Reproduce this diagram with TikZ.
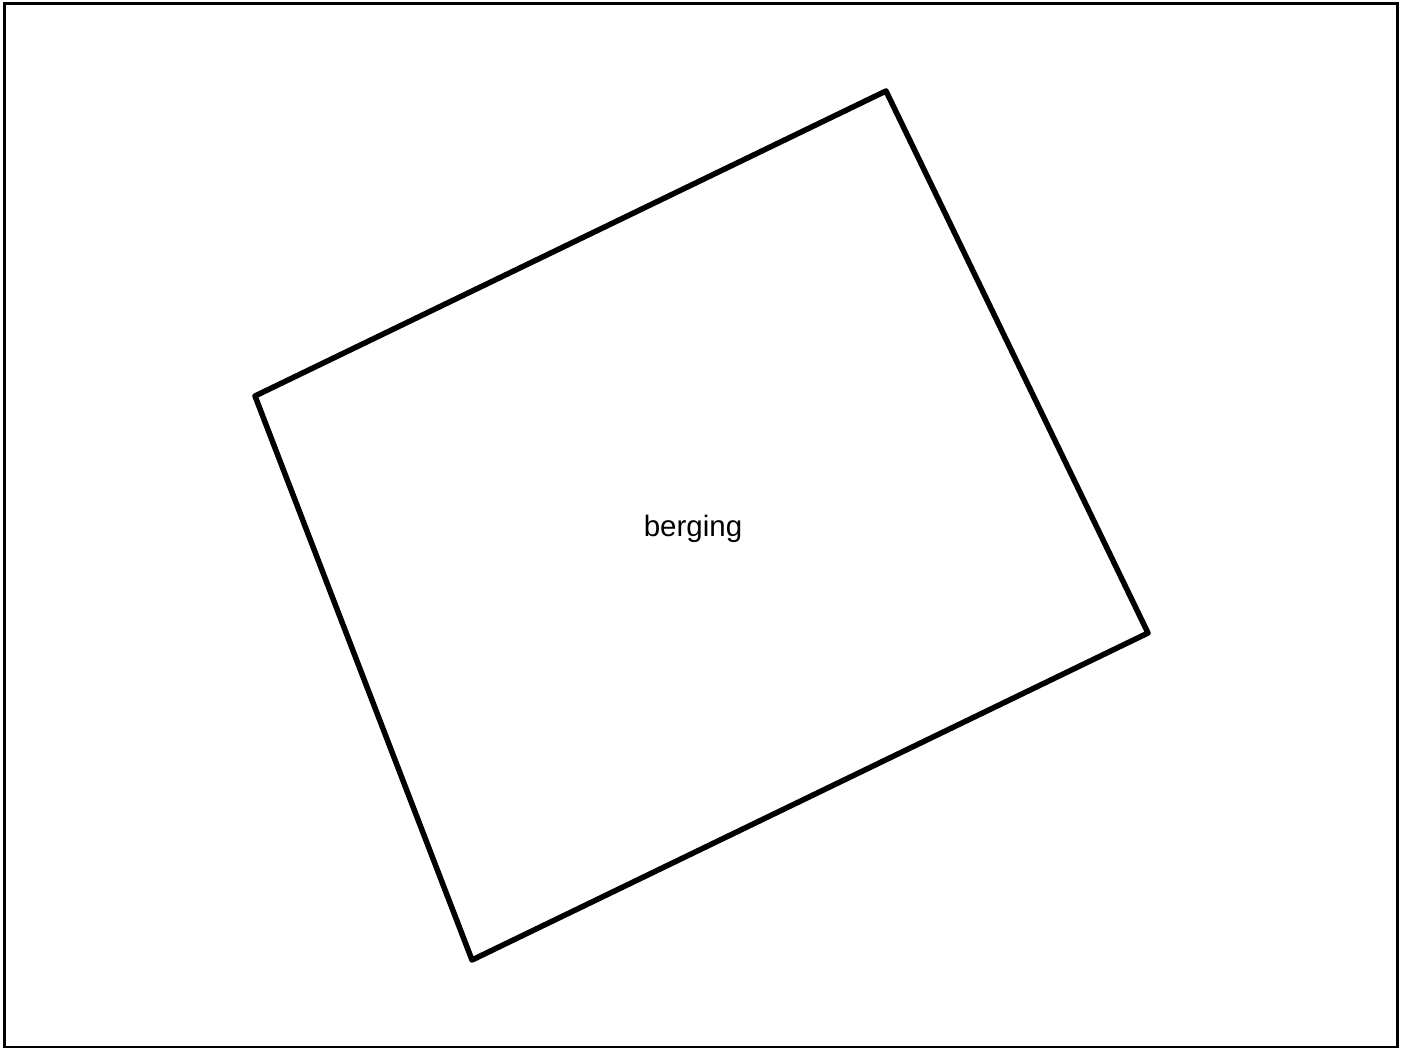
\documentclass[tikz,border=0pt]{standalone}
\usepackage{fontspec}
\setmainfont{Liberation Sans}
\begin{document}
\begin{tikzpicture}[x=1pt,y=-1pt,
  frame/.style={draw=black,line width=3pt},
  quadline/.style={draw=black,line width=5.5pt,line join=round},
  lbl/.style={font=\fontsize{29.5}{34}\selectfont,inner sep=0pt}]
\useasboundingbox (0,0) rectangle (1408,1048);
\draw[frame] (4,4) rectangle (1397,1047);
\coordinate (p1) at (255,396);
\coordinate (p2) at (886,91);
\coordinate (p3) at (1148,633);
\coordinate (p4) at (472,960);
\draw[quadline] (p1) -- (p2) -- (p3) -- (p4) -- cycle;
\node[lbl] (t) at (693,529) {berging};
\end{tikzpicture}
\end{document}
